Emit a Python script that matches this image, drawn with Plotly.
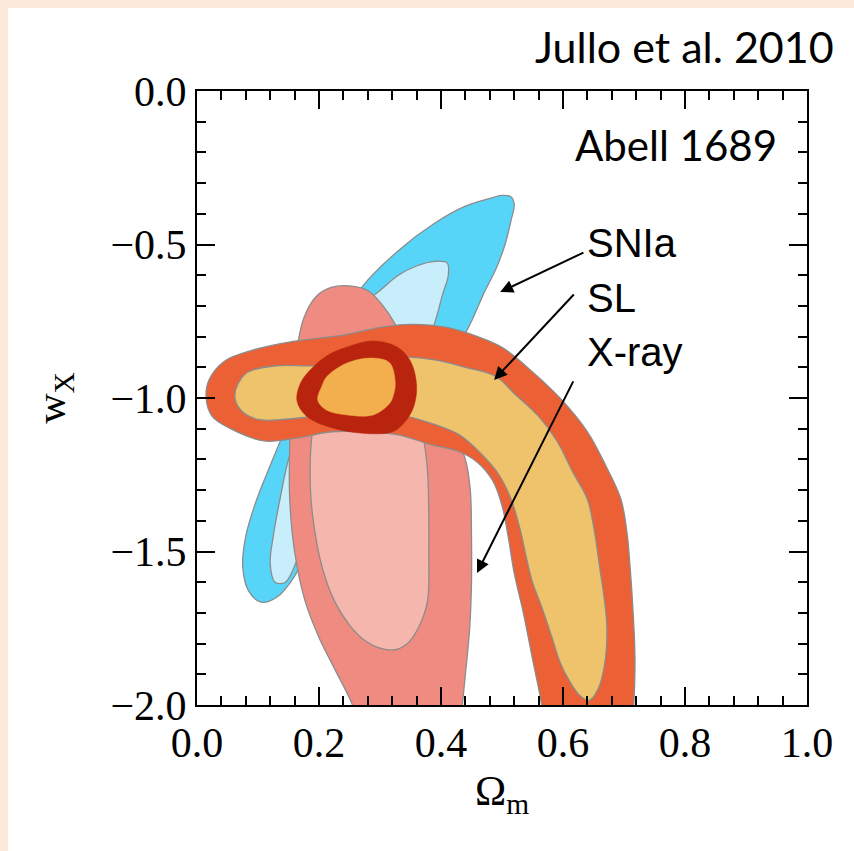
import plotly.graph_objects as go

# ---- contour outlines (Omega_m, w_X) ----
snia_outer_om = [0.515, 0.52, 0.515, 0.505, 0.49, 0.47, 0.445, 0.41, 0.37, 0.32, 0.27, 0.22, 0.185, 0.16, 0.13, 0.105,
                 0.085, 0.075, 0.08, 0.098, 0.12, 0.15, 0.19, 0.23, 0.27, 0.33, 0.39, 0.44, 0.48, 0.50]
snia_outer_w = [-0.345, -0.37, -0.42, -0.5, -0.58, -0.66, -0.77, -0.88, -1.0, -1.13, -1.26, -1.38, -1.47, -1.58, -1.65, -1.665,
                -1.63, -1.55, -1.45, -1.33, -1.22, -1.08, -0.92, -0.78, -0.64, -0.52, -0.43, -0.375, -0.35, -0.34]

snia_inner_om = [0.41, 0.412, 0.403, 0.387, 0.36, 0.32, 0.28, 0.24, 0.2, 0.17, 0.145, 0.128, 0.12, 0.125, 0.136, 0.15,
                 0.18, 0.22, 0.27, 0.30, 0.33, 0.36, 0.39]
snia_inner_w = [-0.56, -0.6, -0.66, -0.77, -0.88, -1.0, -1.12, -1.25, -1.38, -1.5, -1.6, -1.6, -1.54, -1.45, -1.33, -1.2,
                -1.02, -0.84, -0.7, -0.65, -0.6, -0.57, -0.555]

xray_outer_om = [0.25, 0.28, 0.305, 0.325, 0.345, 0.37, 0.40, 0.425, 0.44, 0.448, 0.45, 0.45, 0.447, 0.44, 0.435, 0.43,
                 0.27, 0.255, 0.225, 0.2, 0.177, 0.16, 0.152, 0.152, 0.155, 0.163, 0.175, 0.195, 0.22]
xray_outer_w = [-0.635, -0.65, -0.7, -0.76, -0.85, -0.95, -1.05, -1.13, -1.2, -1.3, -1.45, -1.6, -1.75, -1.9, -2.0, -2.1,
                -2.1, -2.0, -1.88, -1.78, -1.66, -1.5, -1.33, -1.15, -1.0, -0.85, -0.74, -0.67, -0.64]

xray_inner_om = [0.28, 0.31, 0.335, 0.355, 0.37, 0.378, 0.38, 0.378, 0.365, 0.345, 0.325, 0.3, 0.275, 0.25, 0.225, 0.205,
                 0.192, 0.186, 0.188, 0.2, 0.23, 0.255]
xray_inner_w = [-0.85, -0.87, -0.93, -1.02, -1.12, -1.24, -1.5, -1.66, -1.74, -1.8, -1.82, -1.815, -1.79, -1.74, -1.66, -1.55,
                -1.42, -1.3, -1.13, -1.0, -0.9, -0.86]

sl_outer_om = [0.015, 0.02, 0.045, 0.09, 0.16, 0.24, 0.30, 0.35, 0.41, 0.46, 0.50, 0.55, 0.595, 0.64, 0.67, 0.695, 0.705,
               0.71, 0.715, 0.718, 0.716, 0.712, 0.57, 0.565, 0.55, 0.535, 0.52, 0.51, 0.50, 0.485, 0.46, 0.43, 0.38,
               0.33, 0.27, 0.22, 0.165, 0.11, 0.055, 0.025]
sl_outer_w = [-1.0, -0.94, -0.88, -0.845, -0.815, -0.795, -0.77, -0.76, -0.77, -0.8, -0.835, -0.915, -1.0, -1.11, -1.22,
              -1.33, -1.44, -1.55, -1.7, -1.85, -2.0, -2.1, -2.1, -2.0, -1.85, -1.7, -1.57, -1.45, -1.35, -1.27, -1.21,
              -1.175, -1.15, -1.12, -1.11, -1.11, -1.13, -1.14, -1.1, -1.06]

sl_inner_om = [0.062, 0.08, 0.13, 0.19, 0.26, 0.33, 0.39, 0.44, 0.49, 0.52, 0.56, 0.59, 0.617, 0.64, 0.652, 0.66, 0.668,
               0.672, 0.668, 0.657, 0.643, 0.628, 0.61, 0.595, 0.582, 0.565, 0.55, 0.54, 0.53, 0.515, 0.495, 0.465,
               0.43, 0.38, 0.32, 0.25, 0.19, 0.14, 0.1, 0.072]
sl_inner_w = [-0.99, -0.92, -0.895, -0.895, -0.88, -0.866, -0.876, -0.9, -0.93, -0.985, -1.06, -1.14, -1.245, -1.33,
              -1.44, -1.55, -1.66, -1.75, -1.87, -1.95, -1.985, -1.97, -1.92, -1.86, -1.78, -1.68, -1.6, -1.52, -1.43,
              -1.33, -1.25, -1.18, -1.12, -1.08, -1.05, -1.05, -1.06, -1.07, -1.07, -1.04]

comb_outer_om = [0.164, 0.17, 0.19, 0.215, 0.246, 0.289, 0.328, 0.35, 0.36, 0.355, 0.34, 0.321, 0.272, 0.218, 0.18]
comb_outer_w = [-1.01, -0.95, -0.9, -0.86, -0.834, -0.814, -0.834, -0.88, -0.96, -1.03, -1.08, -1.11, -1.115, -1.095, -1.06]

comb_inner_om = [0.198, 0.205, 0.213, 0.246, 0.289, 0.316, 0.325, 0.322, 0.316, 0.289, 0.246, 0.213]
comb_inner_w = [-1.007, -0.96, -0.93, -0.886, -0.87, -0.886, -0.95, -0.99, -1.017, -1.055, -1.055, -1.04]

x_ticks = [0.0, 0.2, 0.4, 0.6, 0.8, 1.0]
y_ticks = [0.0, -0.5, -1.0, -1.5, -2.0]

labels = ["SNIa", "SL", "X-ray"]
arrow_tail_om = [0.636, 0.620, 0.618]
arrow_tail_w = [-0.524, -0.658, -0.941]
arrow_head_om = [0.497, 0.487, 0.459]
arrow_head_w = [-0.655, -0.941, -1.570]

GRAY = "#8C8C8C"
layers = [
    (snia_outer_om, snia_outer_w, "#56D5F8", GRAY),
    (snia_inner_om, snia_inner_w, "#C8EEFB", GRAY),
    (xray_outer_om, xray_outer_w, "#F08B81", GRAY),
    (xray_inner_om, xray_inner_w, "#F4B6AD", GRAY),
    (sl_outer_om, sl_outer_w, "#EB6034", GRAY),
    (sl_inner_om, sl_inner_w, "#EEC36B", GRAY),
    (comb_outer_om, comb_outer_w, "#B8240D", None),
    (comb_inner_om, comb_inner_w, "#F3AF4D", None),
]

fig = go.Figure()
for om, w, fillc, linec in layers:
    fig.add_trace(go.Scatter(
        x=om + [om[0]], y=w + [w[0]], mode="lines", fill="toself", fillcolor=fillc,
        line=dict(color=linec if linec else fillc, width=1.3 if linec else 0.5, shape="spline", smoothing=1.0),
        hoverinfo="skip", showlegend=False))

serif = "Liberation Serif, Times New Roman, serif"
fig.update_xaxes(range=[0, 1], tickvals=x_ticks, tickformat=".1f", ticks="inside", ticklen=18, tickwidth=1.5,
                 tickcolor="black", showline=True, linecolor="black", linewidth=2, mirror="ticks",
                 showgrid=False, zeroline=False,
                 minor=dict(dtick=0.04, ticks="inside", ticklen=9, tickwidth=1.5, tickcolor="black", showgrid=False),
                 tickfont=dict(family=serif, size=42, color="black"),
                 title=dict(text="Ω<sub>m</sub>", font=dict(family=serif, size=42, color="black"), standoff=10))
fig.update_yaxes(range=[-2, 0], tickvals=y_ticks, tickformat=".1f", ticks="inside", ticklen=18, tickwidth=1.5,
                 tickcolor="black", showline=True, linecolor="black", linewidth=2, mirror="ticks",
                 showgrid=False, zeroline=False,
                 minor=dict(dtick=0.1, ticks="inside", ticklen=9, tickwidth=1.5, tickcolor="black", showgrid=False),
                 tickfont=dict(family=serif, size=42, color="black"),
                 title=dict(text="w<sub>X</sub>", font=dict(family=serif, size=42, color="black"), standoff=32))

ann = []
ann.append(dict(text="Jullo et al. 2010", xref="paper", yref="paper", x=(836 - 197) / 610, y=(705 - 47) / 614,
                xanchor="right", yanchor="middle", showarrow=False,
                font=dict(family="Lato, sans-serif", size=43, color="black")))
ann.append(dict(text="Abell 1689", xref="paper", yref="paper", x=(779 - 197) / 610, y=(705 - 145) / 614,
                xanchor="right", yanchor="middle", showarrow=False,
                font=dict(family="Lato, sans-serif", size=42, color="black")))
label_y = [243, 298, 352]
for t, py in zip(labels, label_y):
    ann.append(dict(text=t, xref="paper", yref="paper", x=(585 - 197) / 610, y=(705 - py) / 614,
                    xanchor="left", yanchor="middle", showarrow=False,
                    font=dict(family="Liberation Sans, Arial, sans-serif", size=40, color="black")))
for tx, ty, hx, hy in zip(arrow_tail_om, arrow_tail_w, arrow_head_om, arrow_head_w):
    ann.append(dict(text="", x=hx, y=hy, ax=tx, ay=ty, xref="x", yref="y", axref="x", ayref="y",
                    showarrow=True, arrowhead=2, arrowsize=1.3, arrowwidth=2, arrowcolor="black"))

shapes = [
    dict(type="rect", xref="paper", yref="paper", x0=-197 / 610, x1=(8 - 197) / 610, y0=(705 - 851) / 614,
         y1=705 / 614, fillcolor="#FDE9D9", line=dict(width=0), layer="below"),
    dict(type="rect", xref="paper", yref="paper", x0=-197 / 610, x1=(854 - 197) / 610, y0=(705 - 8) / 614,
         y1=705 / 614, fillcolor="#FDE9D9", line=dict(width=0), layer="below"),
]

fig.update_layout(width=854, height=851, margin=dict(l=197, r=47, t=91, b=146),
                  paper_bgcolor="white", plot_bgcolor="white", annotations=ann, shapes=shapes,
                  showlegend=False)
fig.write_html("out.html")
